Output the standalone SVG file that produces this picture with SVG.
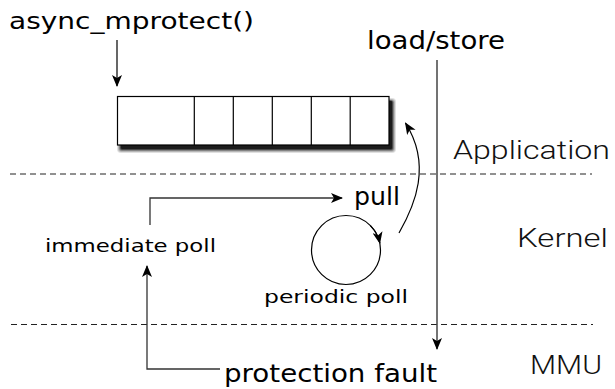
<svg xmlns="http://www.w3.org/2000/svg" width="615" height="389" viewBox="0 0 615 389">
<style>
.t{font-family:"DejaVu Sans","Liberation Sans",sans-serif;fill:#000}
.l{font-family:Roboto,"Liberation Sans",sans-serif;font-weight:300;fill:#111}
.dash{stroke:#222;stroke-width:1;stroke-dasharray:6,4;fill:none}
.cell{fill:#fff;stroke:#000;stroke-width:1.2}
.c{fill:none;stroke:#000;stroke-width:1.2}
.g{fill:none;stroke:#333;stroke-width:1.3}
.s{fill:#000}
</style>
<defs>
<marker id="ah" viewBox="0 0 12 10" refX="11" refY="5" markerWidth="12" markerHeight="10" markerUnits="userSpaceOnUse" orient="auto">
<path d="M0,0 L12,5 L0,10 L3,5 z" fill="#000"/>
</marker>
</defs>
<g id="separators">
<line class="dash" x1="10" y1="174" x2="592" y2="174"/>
<line class="dash" x1="11" y1="324.5" x2="593" y2="324.5"/>
</g>
<g id="layer-labels">
<text class="l" x="453" y="159" font-size="26" textLength="157" lengthAdjust="spacingAndGlyphs">Application</text>
<text class="l" x="517" y="247" font-size="25" textLength="91" lengthAdjust="spacingAndGlyphs">Kernel</text>
<text class="l" x="530" y="374" font-size="26" textLength="72" lengthAdjust="spacingAndGlyphs">MMU</text>
</g>
<g id="async_mprotect">
<text class="t" x="9" y="29" font-size="23" textLength="245" lengthAdjust="spacingAndGlyphs">async_mprotect()</text>
</g>
<g id="queue">
<rect class="s" x="117" y="98" width="279" height="55" rx="4" opacity="0.12"/>
<rect class="s" x="118" y="99" width="277" height="53" rx="3.5" opacity="0.18"/>
<rect class="s" x="119" y="100" width="275" height="51" rx="3" opacity="0.28"/>
<rect class="s" x="120" y="100.5" width="273" height="49.5" rx="2" opacity="0.45"/>
<rect class="s" x="121" y="101" width="271" height="48" rx="1" opacity="0.6"/>
<rect class="cell" x="117.5" y="96.5" width="271.5" height="48.5"/>
<line class="c" x1="194.3" y1="96.5" x2="194.3" y2="145"/>
<line class="c" x1="233.3" y1="96.5" x2="233.3" y2="145"/>
<line class="c" x1="272.3" y1="96.5" x2="272.3" y2="145"/>
<line class="c" x1="311.3" y1="96.5" x2="311.3" y2="145"/>
<line class="c" x1="350.2" y1="96.5" x2="350.2" y2="145"/>
</g>
<g id="load_store">
<text class="t" x="367" y="49" font-size="25" textLength="138" lengthAdjust="spacingAndGlyphs">load/store</text>
</g>
<g id="pull">
<text class="t" x="354" y="205" font-size="24" textLength="46" lengthAdjust="spacingAndGlyphs">pull</text>
</g>
<g id="immediate_poll">
<text class="t" x="45" y="252" font-size="17" textLength="171" lengthAdjust="spacingAndGlyphs">immediate poll</text>
</g>
<g id="periodic_poll">
<circle class="c" cx="346" cy="250" r="34.5"/>
<text class="t" x="264" y="303" font-size="17" textLength="144" lengthAdjust="spacingAndGlyphs">periodic poll</text>
</g>
<g id="protection_fault">
<text class="t" x="224" y="382" font-size="24" textLength="213" lengthAdjust="spacingAndGlyphs">protection fault</text>
</g>
<g id="connectors">
<line class="c" x1="117" y1="40" x2="117" y2="86" marker-end="url(#ah)"/>
<line x1="437" y1="60" x2="437" y2="349" stroke="#444" stroke-width="1.5" marker-end="url(#ah)"/>
<path class="c" d="M399,233 C415,205 432,165 405.5,123" marker-end="url(#ah)"/>
<path class="c" d="M370.4,225.6 A34.5 34.5 0 0 1 379.8,243" marker-end="url(#ah)"/>
<polyline class="g" points="150,225 150,198 342,198" marker-end="url(#ah)"/>
<polyline class="g" points="220,369 147,369 147,266" marker-end="url(#ah)"/>
</g>
</svg>
